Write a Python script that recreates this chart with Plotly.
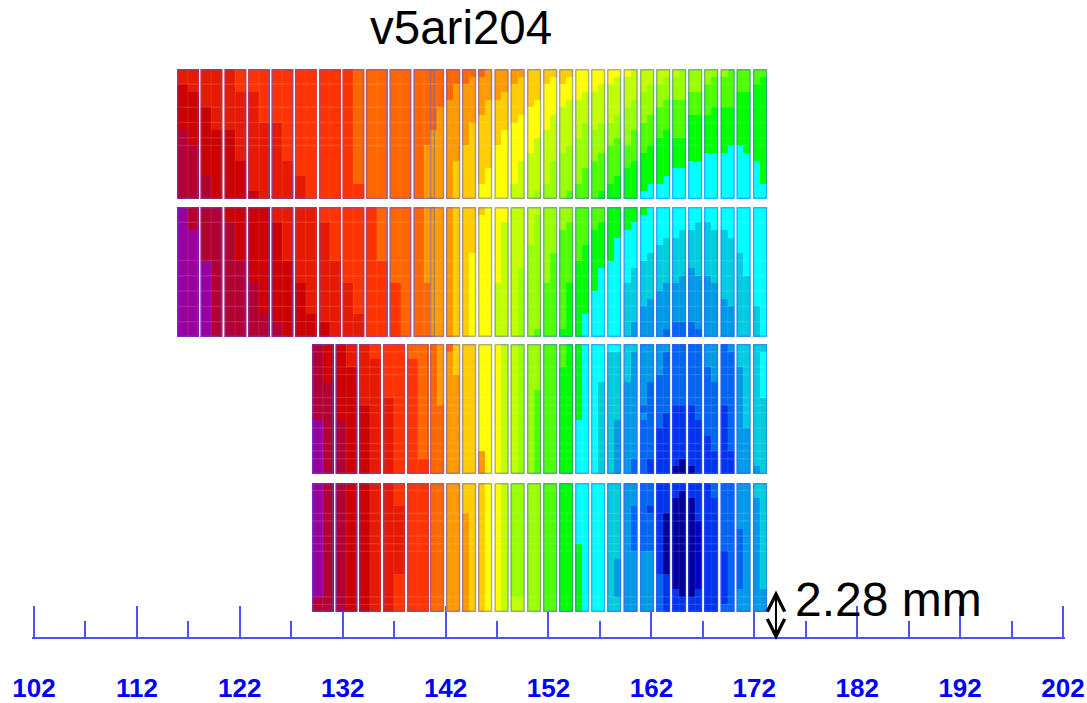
import re
import plotly.graph_objects as go

# ---- data ----------------------------------------------------------------
title_text = "v5ari204"
span_text = "2.28 mm"
major_ticks = [102, 112, 122, 132, 142, 152, 162, 172, 182, 192, 202]
minor_ticks = [107, 117, 127, 137, 147, 157, 167, 177, 187, 197]

# colour classes, low to high
level_colors = ["#990099", "#b30033", "#cc0000", "#e61a00", "#ff3300", "#ff6600", "#ff9900",
                "#ffcc00", "#ffff00", "#bfff00", "#99ff00", "#4dff00", "#00ff00", "#00ffff",
                "#00ccdd", "#0099e6", "#0066f0", "#0033ee", "#0000cc", "#000099"]

# strip start positions on the x axis
upper_starts = [115.90, 118.18, 120.51, 122.80, 125.08, 127.36, 129.70, 131.98, 134.26, 136.55,
                138.88, 140.48, 142.04, 143.59, 145.15, 146.75, 148.31, 149.91, 151.47, 153.02,
                154.58, 156.13, 157.69, 159.29, 160.89, 162.45, 164.00, 165.56, 167.11, 168.72,
                170.27, 171.87]
lower_starts = [129.02, 131.30, 133.58, 135.92, 138.25,
                140.48, 142.04, 143.59, 145.15, 146.75, 148.31, 149.91, 151.47, 153.02,
                154.58, 156.13, 157.69, 159.29, 160.89, 162.45, 164.00, 165.56, 167.11, 168.72,
                170.27, 171.87]

# class runs per half strip, top to bottom (letter = class, number = rows)
panel1 = ["d2c6b9", "d3c7b7", "d5c9b3", "d8c9", "d8c9", "e3d9c5", "e3d13c1", "e7d10",
          "e7d10", "e12d5", "e14d3", "e17", "e17", "e17", "e17", "f15e2",
          "f17", "f17", "f17", "f17", "f17", "f10g7", "f8g9", "f5g12",
          "f4g13", "f2g10h5", "f2g8h7", "f1g6h10", "f1g5h9i2", "g4h9i4", "g4h6i7", "g3h5i9",
          "g2h5i8j2", "g1h5i6j5", "h5i6j6", "h4i5j7k1", "h2i6j7k2", "h1i5j6k5", "h2i3j6k6", "h1i3j6k6l1",
          "i4j5k6l2", "i3j4k6l4", "i3j5k4l5", "i2j5k4l5m1", "i2j5k3l5m2", "i1j5k3l5m3", "i1j4k5l3m4", "j4k4l4m5",
          "j3k4l4m5n1", "j2k4l4m5n2", "j2k3l4m6n2", "j1k3l4m6n3", "j1k3l5m4n4", "k4l5m4n4", "k3l3m6n5", "k3l3m6n5",
          "k2l4m5n6", "k1l4m6n6", "k1l4m6n6", "l5m5n7", "l3m7n7", "l3m8n6", "l2m10n5", "l1m14n2"]
panel2 = ["a17", "b3a14", "b7a10", "b17", "c2b15", "c7b10", "c10b7", "c14b3",
          "d2c13b2", "d7c10", "d10c7", "d14c3", "e2d13c2", "e7d10", "e10d7", "e14d3",
          "e17", "f7e10", "f10e7", "f17", "f17", "g10f7", "g17", "g17",
          "g17", "h17", "h17", "h6i11", "h1i16", "i17", "i10j7", "i2j15",
          "j17", "j8k9", "j5k12", "j1k15l1", "k10l7", "k6l11", "k3l13m1", "k2l8m7",
          "l7m10", "l5m9n3", "l3m8n6", "l2m6n9", "m7n10", "m4n13", "m3n7o7", "m2n6o7p2",
          "m1n6o6p4", "n6o6p5", "n5o6p6", "n4o6p6q1", "n4o6p5q2", "n3o6p6q2", "n3o5p7q2", "n2o7p7q1",
          "n2o7p8", "n3o7p7", "n3o9p5", "n4o9p4", "n6o11", "n9o8", "n13o4", "n17"]
panel3 = ["b10a7", "c5b12", "c10b7", "d3c14", "d8c9", "e2d15", "e7d10", "e17",
          "f2e15", "f15e2", "f17", "g8f9", "f1g16", "h4g13", "h17", "h17",
          "i14g3", "i17", "i17", "j17", "j17", "k17", "k17", "k6l11",
          "l17", "l17", "l3m14", "m17", "m10n7", "n17", "n17", "n5o12",
          "n1o16", "n1o9p7", "o5p12", "o1p14q2", "p8q1p1q7", "p5q10r2", "p4q7r6", "p1q8r8",
          "q8r8t1", "q8r7t2", "q8r8t1", "q10r7", "p3q9r5", "p5q9r3", "q8r9", "p1q13r3",
          "o3p14", "o11p6", "o16p1", "o1n6o10"]
panel4 = ["a15b2", "b17", "b17", "c17", "c17", "d17", "d17", "e3d9e5",
          "e17", "e17", "f17", "f17", "g17", "g17", "h4g13", "h17",
          "h17", "i17", "i17", "j17", "k15j2", "k15j2", "k17", "k17",
          "l17", "l17", "m17", "m17", "n8m9", "n17", "n17", "n17",
          "o17", "o10p5o2", "p17", "p3q6p8", "q9p8", "q3r1q5p8", "r12q5", "r4t8r5",
          "r2t12r3", "r1t14r2", "r2t13r2", "r5s9r3", "r17", "q2r15", "q9r7q1", "q17",
          "p6q8p3", "p17", "o2p15", "o14p3"]

# row boundaries that carry a faint rule, per panel
panel1_rules = [2, 5, 7, 9, 10]
panel2_rules = [2, 7, 9, 11, 13, 15]
panel3_rules = [1, 3, 4, 7, 8, 9, 11, 13, 14, 15]
panel4_rules = [1, 4, 5, 7, 8, 9, 15, 16]

# ---- styling / layout constants ------------------------------------------
W, H = 1087, 703
ROWS = 17
WIDE, NARROW = 2.09, 1.39
WIDE_CUT = 139.5           # strips starting below this are the wide ones
INSET_X, INSET_Y = 0.07, 0.09
AXIS_COLOR = "#5050ff"
FRAME_COLOR = "rgba(85,85,255,0.45)"
RULE_COLOR = "rgba(255,255,255,0.12)"
MID_COLOR = "rgba(255,255,255,0.07)"
FONT = "Liberation Sans"
panel_px = [(69, 199), (207, 337), (344, 474), (483, 612)]
AXIS_PAD = 0.15            # keeps the end ticks from being clipped


def decode(run):
    cells = []
    for letter, count in re.findall(r"([a-t])(\d+)", run):
        cells += [ord(letter) - 97] * int(count)
    return (cells + cells[-1:] * ROWS)[:ROWS]


n = len(level_colors)
colorscale = []
for i, c in enumerate(level_colors):
    colorscale += [[i / n, c], [(i + 1) / n, c]]

panels = [(panel1, upper_starts, panel1_rules), (panel2, upper_starts, panel2_rules),
          (panel3, lower_starts, panel3_rules), (panel4, lower_starts, panel4_rules)]

fig = go.Figure()
row_edges = list(range(ROWS + 1))
layout_axes = {}
for p, (runs, starts, rules) in enumerate(panels):
    yname = "y" if p == 0 else f"y{p + 1}"
    axis_key = "yaxis" if p == 0 else f"yaxis{p + 1}"
    top, bottom = panel_px[p]
    layout_axes[axis_key] = dict(domain=[1 - bottom / H, 1 - top / H], range=[ROWS, 0],
                                 visible=False, anchor="x", fixedrange=True)
    frame_x, frame_y, rule_x, rule_y, mid_x, mid_y = [], [], [], [], [], []
    for s, x0 in enumerate(starts):
        w = WIDE if x0 < WIDE_CUT else NARROW
        left, right = decode(runs[2 * s]), decode(runs[2 * s + 1])
        fig.add_trace(go.Heatmap(
            x=[x0, x0 + w / 2, x0 + w], y=row_edges,
            z=[[a + 0.5, b + 0.5] for a, b in zip(left, right)],
            zmin=0, zmax=n, colorscale=colorscale, showscale=False,
            hoverinfo="skip", yaxis=yname, xaxis="x"))
        xa, xb = x0 + INSET_X, x0 + w - INSET_X
        ya, yb = INSET_Y, ROWS - INSET_Y
        frame_x += [xa, xb, xb, xa, xa, None]
        frame_y += [ya, ya, yb, yb, ya, None]
        mid_x += [x0 + w / 2, x0 + w / 2, None]
        mid_y += [0, ROWS, None]
        for r in rules:
            rule_x += [x0, x0 + w, None]
            rule_y += [r, r, None]
    fig.add_trace(go.Scatter(x=rule_x, y=rule_y, mode="lines", yaxis=yname,
                             line=dict(color=RULE_COLOR, width=1.5), hoverinfo="skip", showlegend=False))
    fig.add_trace(go.Scatter(x=mid_x, y=mid_y, mode="lines", yaxis=yname,
                             line=dict(color=MID_COLOR, width=1.5), hoverinfo="skip", showlegend=False))
    fig.add_trace(go.Scatter(x=frame_x, y=frame_y, mode="lines", yaxis=yname,
                             line=dict(color=FRAME_COLOR, width=1.5), hoverinfo="skip", showlegend=False))

px_per_unit = (1063 - 34) / (major_ticks[-1] - major_ticks[0])
fig.update_layout(
    width=W, height=H, margin=dict(l=0, r=0, t=0, b=0, autoexpand=False), autosize=False,
    paper_bgcolor="white", plot_bgcolor="white", showlegend=False,
    xaxis=dict(domain=[(34 - AXIS_PAD * px_per_unit) / W, (1063 + AXIS_PAD * px_per_unit) / W],
               range=[major_ticks[0] - AXIS_PAD, major_ticks[-1] + AXIS_PAD],
               anchor="free", position=1 - 638 / H,
               showgrid=False, zeroline=False, showline=True, linecolor=AXIS_COLOR, linewidth=1.5,
               tickmode="array", tickvals=major_ticks, ticktext=[str(t) for t in major_ticks],
               ticks="inside", ticklen=31, tickwidth=1.5, tickcolor=AXIS_COLOR,
               tickfont=dict(family=FONT, size=26, color="#0000ff", weight=700),
               ticklabelstandoff=27, fixedrange=True,
               minor=dict(tickmode="array", tickvals=minor_ticks, ticks="inside", ticklen=16,
                          tickwidth=1.5, tickcolor=AXIS_COLOR, showgrid=False)),
    **layout_axes,
)

fig.add_annotation(text=title_text, xref="paper", yref="paper", x=460.5 / W, y=1 - 28 / H,
                   xanchor="center", yanchor="middle",
                   showarrow=False, font=dict(family=FONT, size=47.5, color="black"))
fig.add_annotation(text=span_text, xref="paper", yref="paper", x=793 / W, y=1 - 599 / H,
                   xanchor="left", yanchor="middle",
                   showarrow=False, font=dict(family=FONT, size=48, color="black"))
fig.add_annotation(text="", xref="paper", yref="paper", axref="pixel", ayref="pixel",
                   x=776 / W, y=1 - 640 / H, ax=0, ay=-51, showarrow=True,
                   arrowhead=5, arrowside="end+start", arrowwidth=2, arrowcolor="black", arrowsize=1.7)

fig.write_html("out.html", config={"displayModeBar": False},
               post_script="document.body.style.margin='0';document.body.style.overflow='hidden';")
